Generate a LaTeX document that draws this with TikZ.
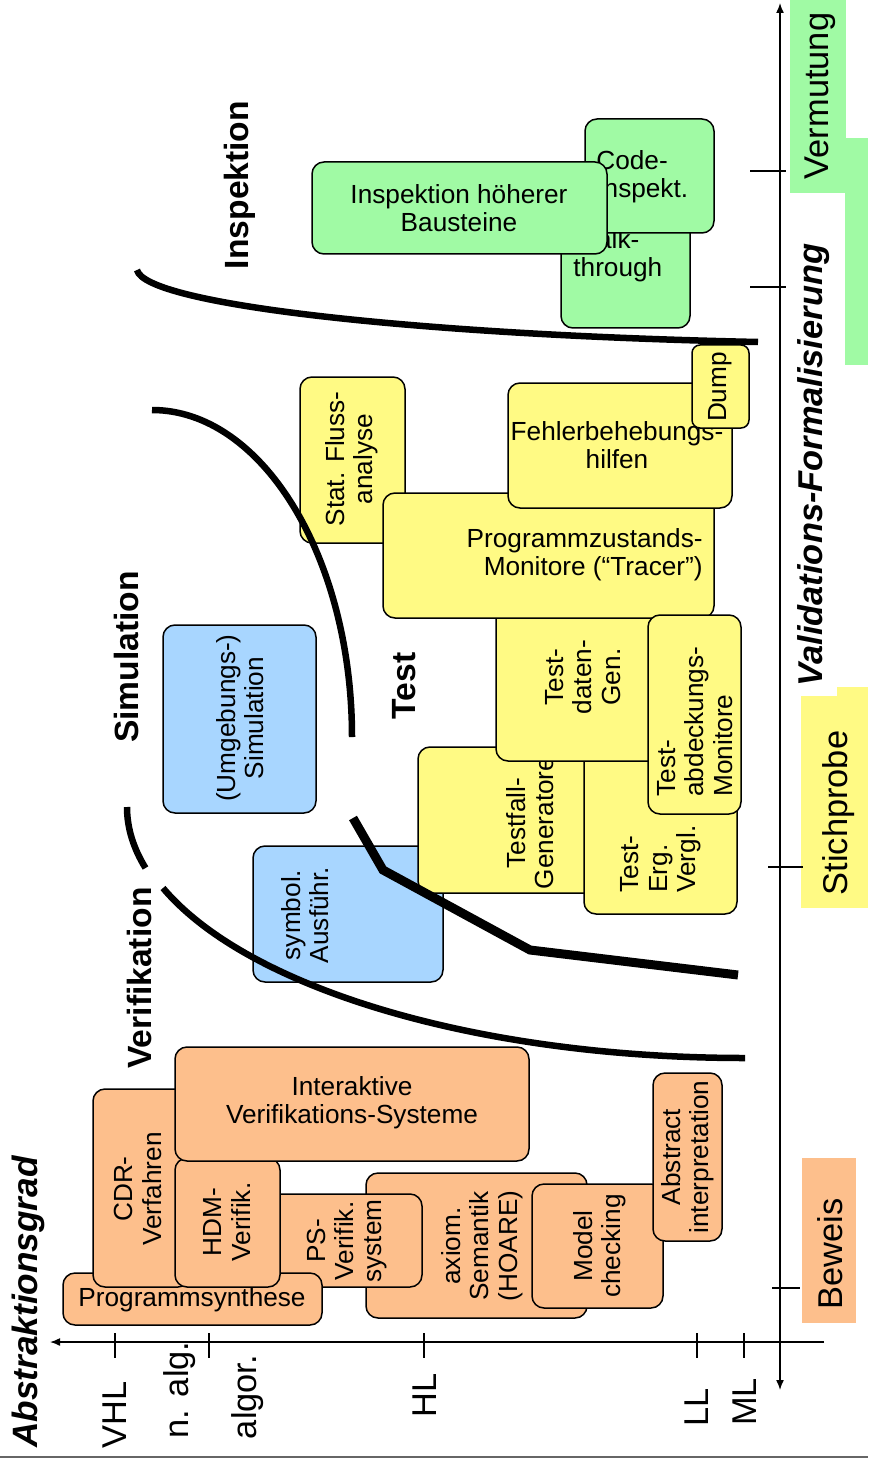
\documentclass[tikz,border=0pt]{standalone}
\usepackage{fontspec}
\setmainfont{Liberation Sans}
\usetikzlibrary{arrows.meta}
\definecolor{orbg}{RGB}{253,191,140}
\definecolor{yebg}{RGB}{255,250,132}
\definecolor{grbg}{RGB}{160,250,164}
\definecolor{blbg}{RGB}{168,214,255}

\begin{document}
\begin{tikzpicture}[x=0.5pt, y=-0.5pt,
	box/.style={draw, line width=0.75pt, rounded corners=6pt},
	txt/.style={inner sep=0pt, align=center, font=\fontsize{13.1}{14.2}\selectfont},
	rtxt/.style={txt, rotate=90},
	cat/.style={inner sep=0pt, rotate=90, font=\fontsize{16.8}{18}\selectfont\bfseries},
	big/.style={inner sep=0pt, rotate=90, font=\fontsize{17.2}{18}\selectfont},
	bound/.style={line width=3.25pt},
	axis/.style={line width=0.75pt}]
	\useasboundingbox (0,0) rectangle (868,1460);

	% side scale backgrounds
	\fill[grbg] (790,0) rectangle (846,193);
	\fill[grbg] (845,138) rectangle (868,365);
	\fill[yebg] (801,696) rectangle (868,908);
	\fill[yebg] (837,687) rectangle (868,908);
	\fill[orbg] (802,1158) rectangle (856,1323);

	% Verifikation
	\draw[box, fill=orbg] (366,1173) rectangle (587,1318);
	\node[rtxt] (axsem) at (482,1246) {axiom.\\Semantik\\(HOARE)};
	\draw[box, fill=orbg] (532,1184) rectangle (663,1308);
	\node[rtxt] (modch) at (600,1246) {Model\\checking};
	\draw[box, fill=orbg] (653,1073) rectangle (722,1241);
	\node[rtxt] (absint) at (688,1157) {Abstract\\interpretation};
	\draw[box, fill=orbg] (260,1194) rectangle (422,1287);
	\node[rtxt] (psv) at (347,1241) {PS-\\Verifik.\\system};
	\draw[box, fill=orbg] (63,1273) rectangle (322,1325);
	\draw[box, fill=orbg] (93,1089) rectangle (190,1287);
	\node[rtxt] (cdr) at (138,1189) {CDR-\\Verfahren};
	\draw[box, fill=orbg] (175,1158) rectangle (280,1287);
	\node[rtxt] (hdm) at (227,1222) {HDM-\\Verifik.};
	\node[txt] (psyn) at (192,1300) {Programmsynthese};
	\draw[box, fill=orbg] (175,1047) rectangle (529,1161);
	\node[txt] (iavs) at (352,1103) {Interaktive\\Verifikations-Systeme};

	% Simulation
	\draw[box, fill=blbg] (163,625) rectangle (316,813);
	\node[rtxt] (umgsim) at (240,718) {(Umgebungs-)\\Simulation};
	\draw[box, fill=blbg] (253,846) rectangle (443,982);
	\node[rtxt] (symb) at (305,915) {symbol.\\Ausführ.};

	% Test
	\draw[box, fill=yebg] (418,747) rectangle (600,893);
	\node[rtxt] (tfall) at (530,823) {Testfall-\\Generatore};
	\draw[box, fill=yebg] (584,740) rectangle (737,914);
	\node[rtxt, anchor=west, align=left] (terg) at (661,893) {Test-\\Erg.\\Vergl.};
	\draw[box, fill=yebg] (496,600) rectangle (700,761);
	\node[rtxt] (tdat) at (583,677) {Test-\\daten-\\Gen.};
	\draw[box, fill=yebg] (300,377) rectangle (405,543);
	\node[rtxt] (statfl) at (352,459) {Stat. Fluss-\\analyse};
	\draw[box, fill=yebg] (383,493) rectangle (714,618);
	\node[txt, anchor=east, align=right] (pzm) at (703,555) {Programmzustands-\\Monitore (“Tracer”)};
	\draw[box, fill=yebg] (508,383) rectangle (732,508);
	\node[txt] (fehl) at (617,445) {Fehlerbehebungs-\\hilfen};
	\draw[box, fill=yebg, rounded corners=4pt] (692,345) rectangle (749,428);
	\node[rtxt] (dump) at (720,387) {Dump};
	\draw[box, fill=yebg] (648,615) rectangle (741,814);
	\node[rtxt, anchor=west, align=left] (tabd) at (695,797) {Test-\\abdeckungs-\\Monitore};

	% Inspektion
	\draw[box, fill=grbg] (561,200) rectangle (690,328);
	\node[txt, anchor=west, align=left] (walk) at (573,256) {Walk-\\through};
	\draw[box, fill=grbg] (585,119) rectangle (714,233);
	\node[txt, anchor=west, align=left] (codei) at (596,177) {Code-\\Inspekt.};
	\draw[box, fill=grbg] (312,162) rectangle (607,254);
	\node[txt] (insph) at (459,208) {Inspektion höherer\\Bausteine};

	% boundaries
	\draw[bound] (137,270) .. controls (145,305) and (420,335) .. (758,342);
	\draw[bound] (152,410) .. controls (262,410) and (352,557) .. (352,737);
	\draw[bound] (127,807) .. controls (127,827.6) and (133.2,848) .. (145.5,868);
	\draw[bound] (163,888) .. controls (248.6,989.4) and (480.5,1058) .. (745,1058);
	\draw[line width=4.5pt] (353,818) -- (383,870) -- (530,950) -- (738,975);

	% region names
	\node[cat] (lInsp) at (240,185) {Inspektion};
	\node[cat] (lSim) at (126,657) {Simulation};
	\node[cat] (lVer) at (139,978) {Verifikation};
	\node[cat] (lTest) at (404,686) {Test};

	% Abstraktionsgrad axis
	\coordinate (hx0) at (824,1342);
	\coordinate (hx1) at (50,1342);
	\draw[axis, -{Latex[length=5pt,width=4pt]}] (hx0) -- (hx1);
	\draw[axis] (115,1333) -- (115,1358);
	\draw[axis] (209,1333) -- (209,1358);
	\draw[axis] (424,1333) -- (424,1358);
	\draw[axis] (697,1333) -- (697,1358);
	\draw[axis] (744,1333) -- (744,1358);
	\node[big] (lVHL) at (115,1415) {VHL};
	\node[big] (lnalg) at (180,1390) {n. alg.};
	\node[big] (lalgor) at (248,1397) {algor.};
	\node[big] (lHL) at (425,1395) {HL};
	\node[big] (lLL) at (697,1407) {LL};
	\node[big] (lML) at (745,1402) {ML};
	\node[cat, font=\fontsize{17.6}{19}\selectfont\bfseries\itshape] (labs) at (28,1302) {Abstraktionsgrad};

	% Formalisierung axis
	\coordinate (vx0) at (780,1390);
	\coordinate (vx1) at (780,3);
	\draw[axis, {Latex[length=5pt,width=4pt]}-{Latex[length=5pt,width=4pt]}] (vx0) -- (vx1);
	\draw[axis] (750,171) -- (786,171);
	\draw[axis] (750,287) -- (786,287);
	\draw[axis] (768,867) -- (803,867);
	\draw[axis] (772,1288) -- (800,1288);
	\node[big] (lverm) at (820,96) {Vermutung};
	\node[cat, font=\fontsize{17.2}{19}\selectfont\bfseries\itshape] (lval) at (814,465) {Validations-Formalisierung};
	\node[big] (lstich) at (839,813) {Stichprobe};
	\node[big] (lbew) at (830,1254) {Beweis};

	\draw[black!60, line width=1pt] (0,1457) -- (868,1457);
\end{tikzpicture}
\end{document}
